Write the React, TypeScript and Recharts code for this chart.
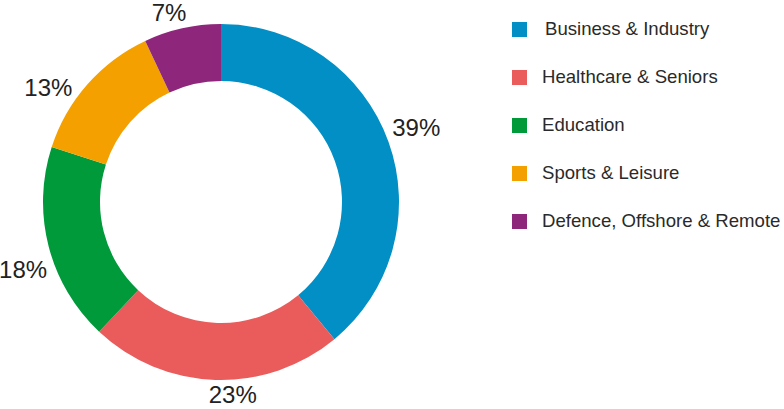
import React from 'react';
import { PieChart, Pie, Cell, Legend } from 'recharts';

const SECTORS = ['Business & Industry', 'Healthcare & Seniors', 'Education', 'Sports & Leisure', 'Defence, Offshore & Remote'];
const SHARES = [39, 23, 18, 13, 7];
const COLORS = ['#028fc5', '#ea5c5b', '#009a3b', '#f4a000', '#8e277b'];

const data = SECTORS.map((name, i) => ({ name, value: SHARES[i] }));

const RADIAN = Math.PI / 180;
const FONT = "'Liberation Sans', Arial, sans-serif";
// small angular nudges so the % labels sit where the original puts them
const LABEL_NUDGE = [1, 5.3, 4.4, 7.9, 2.7];

const renderLabel = (props: any) => {
  const { cx, cy, midAngle, outerRadius, value, index } = props;
  const a = (midAngle + (LABEL_NUDGE[index] || 0)) * RADIAN;
  const cos = Math.cos(-a);
  const sin = Math.sin(-a);
  const r = outerRadius + 14 + Math.abs(cos) * 18;
  return (
    <text
      x={cx + r * cos}
      y={cy + r * sin}
      textAnchor="middle"
      dominantBaseline="central"
      fill="#222"
      fontSize={24}
      fontFamily={FONT}
    >
      {`${value}%`}
    </text>
  );
};

const renderLegend = () => (
  <div>
    {SECTORS.map((name, i) => (
      <div key={name} style={{ display: 'flex', alignItems: 'center', height: 48 }}>
        <span style={{ width: 15, height: 15, background: COLORS[i], display: 'inline-block', marginRight: 15, flexShrink: 0 }} />
        <span style={{ fontSize: 18.6, color: '#2a2a2a', fontFamily: FONT, whiteSpace: 'nowrap', marginLeft: i === 0 ? 3 : 0 }}>{name}</span>
      </div>
    ))}
  </div>
);

export default function App() {
  return (
    <div style={{ position: 'absolute', left: 0, top: 0, width: 784, height: 409, background: '#fff' }}>
      <PieChart width={784} height={409} margin={{ top: 0, right: 0, bottom: 0, left: 0 }}>
        <Pie
          data={data}
          dataKey="value"
          cx={221}
          cy={202}
          innerRadius={121}
          outerRadius={178}
          startAngle={90}
          endAngle={-270}
          stroke="none"
          label={renderLabel}
          labelLine={false}
          isAnimationActive={false}
        >
          {data.map((d, i) => (
            <Cell key={d.name} fill={COLORS[i]} />
          ))}
        </Pie>
        <Legend
          layout="vertical"
          content={renderLegend}
          wrapperStyle={{ position: 'absolute', left: 512, top: 5, width: 272 }}
        />
      </PieChart>
    </div>
  );
}
